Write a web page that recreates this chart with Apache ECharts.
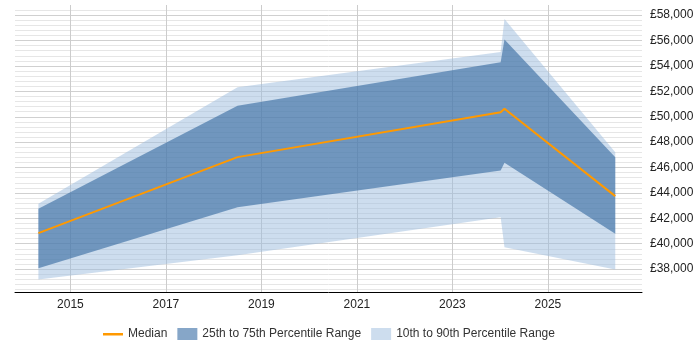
<!DOCTYPE html>
<html>
<head>
<meta charset="utf-8">
<script src="https://cdn.jsdelivr.net/npm/echarts@6/dist/echarts.min.js"></script>
<style>
  html, body { margin: 0; padding: 0; background: #fff; }
  #main { width: 700px; height: 350px; }
</style>
</head>
<body>
<div id="main"></div>
<script>
// data points (fractional years)
const years = [2014.33, 2018.5, 2024.01, 2024.09, 2026.41];
const p10 = [37190, 39100, 42090, 39730, 37980];
const p25 = [38080, 42880, 45770, 46380, 40790];
const median = [40840, 46820, 50360, 50630, 43750];
const p75 = [42760, 50870, 54300, 56090, 46820];
const p90 = [43150, 52330, 55090, 57700, 47210];

const xTicks = [2015, 2017, 2019, 2021, 2023, 2025];
const yLabels = [38000, 40000, 42000, 44000, 46000, 48000, 50000, 52000, 54000, 56000, 58000];

// horizontal grid lines every 400, darker every 2000
const yGrid = [];
for (let v = 36400; v <= 58400; v += 400) yGrid.push(v);

const font = "Liberation Sans, Arial, sans-serif";
const lightBand = "rgba(155,187,221,0.5)";
const darkBand = "rgba(50,103,158,0.6)";

// band between a lower and an upper series, drawn as one polygon
function bandSeries(name, lo, hi, fill) {
  return {
    name: name,
    type: "custom",
    data: [0],
    silent: true,
    itemStyle: { color: fill },
    renderItem: (params, api) => {
      const pts = [];
      for (let i = 0; i < years.length; i++) pts.push(api.coord([years[i], hi[i]]));
      for (let i = years.length - 1; i >= 0; i--) pts.push(api.coord([years[i], lo[i]]));
      return {
        type: "polygon",
        shape: { points: pts },
        style: { fill: fill }
      };
    }
  };
}

// thin bar icon for the median line in the legend
const lineIcon = "path://M0,0L0.01,0L0,0.01Z M0,5L20,5L20,7.5L0,7.5Z M19.99,12L20,12L20,11.99Z";

const myChart = echarts.init(document.getElementById("main"));
const option = {
  backgroundColor: "#fff",
  animation: false,
  grid: {
    left: 15,
    right: 58,
    top: 5,
    bottom: 58
  },
  legend: {
    left: 98,
    top: 323,
    itemWidth: 20,
    itemHeight: 12,
    itemGap: 10,
    textStyle: {
      color: "#333",
      fontSize: 12,
      fontFamily: font
    },
    data: [
      { name: "Median", icon: lineIcon, itemStyle: { color: "#ff9900" } },
      { name: "25th to 75th Percentile Range", icon: "rect", itemStyle: { color: "rgb(134,166,200)" } },
      { name: "10th to 90th Percentile Range", icon: "rect", itemStyle: { color: "rgb(205,221,238)" } }
    ]
  },
  xAxis: {
    type: "value",
    min: 2013.84,
    max: 2026.97,
    axisLine: {
      onZero: false,
      lineStyle: { color: "#000", width: 1 }
    },
    axisTick: {
      show: false,
      customValues: xTicks
    },
    axisLabel: {
      customValues: xTicks,
      color: "#222",
      fontSize: 12,
      fontFamily: font,
      margin: 7,
      formatter: v => String(v)
    },
    splitLine: {
      show: true,
      lineStyle: { color: "#cccccc" }
    }
  },
  yAxis: {
    type: "value",
    position: "right",
    min: 36200,
    max: 58800,
    axisLine: { show: false },
    axisTick: {
      show: false,
      customValues: yGrid
    },
    axisLabel: {
      customValues: yLabels,
      color: "#222",
      fontSize: 12,
      fontFamily: font,
      margin: 8,
      formatter: v => "£" + String(v).replace(/\B(?=(\d{3})+(?!\d))/g, ",")
    },
    splitLine: {
      show: true,
      lineStyle: {
        color: ["#e6e6e6", "#e6e6e6", "#e6e6e6", "#e6e6e6", "#d0d0d0"]
      }
    }
  },
  series: [
    bandSeries("10th to 90th Percentile Range", p10, p90, lightBand),
    bandSeries("25th to 75th Percentile Range", p25, p75, darkBand),
    {
      name: "Median",
      type: "line",
      data: median.map((v, i) => [years[i], v]),
      symbol: "none",
      itemStyle: { color: "#ff9900" },
      lineStyle: { color: "#ff9900", width: 2 }
    }
  ]
};

myChart.setOption(option);
</script>
</body>
</html>
